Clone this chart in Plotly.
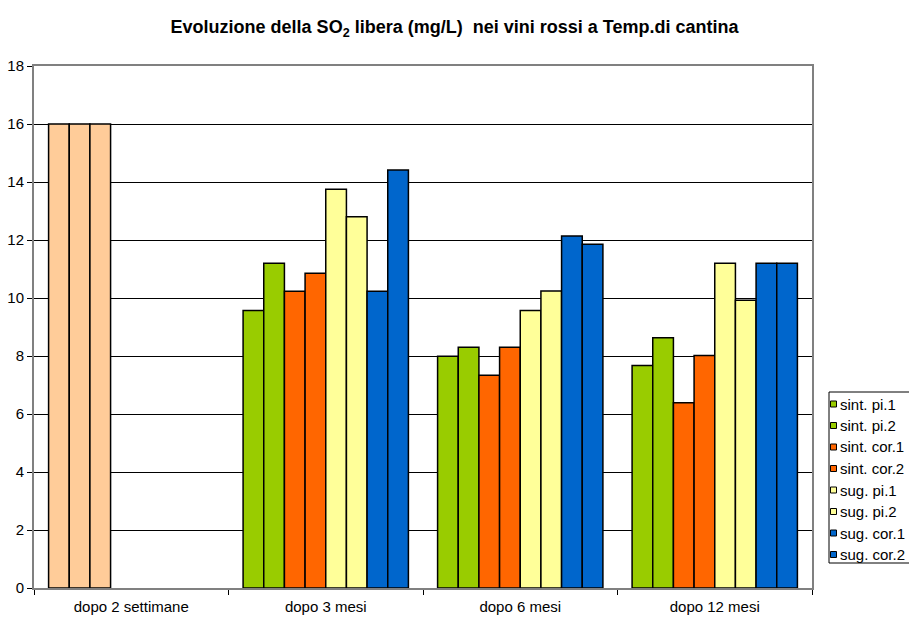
import plotly.graph_objects as go

categories = ["dopo 2 settimane", "dopo 3 mesi", "dopo 6 mesi", "dopo 12 mesi"]
series_names = ["sint. pi.1", "sint. pi.2", "sint. cor.1", "sint. cor.2",
                "sug. pi.1", "sug. pi.2", "sug. cor.1", "sug. cor.2"]
sint_pi1 = [16.0, 9.57, 7.99, 7.67]
sint_pi2 = [16.0, 11.2, 8.30, 8.63]
sint_cor1 = [16.0, 10.23, 7.34, 6.39]
sint_cor2 = [None, 10.85, 8.30, 8.02]
sug_pi1 = [None, 13.75, 9.57, 11.2]
sug_pi2 = [None, 12.8, 10.24, 9.92]
sug_cor1 = [None, 10.23, 12.14, 11.2]
sug_cor2 = [None, 14.41, 11.85, 11.2]
values = [sint_pi1, sint_pi2, sint_cor1, sint_cor2, sug_pi1, sug_pi2, sug_cor1, sug_cor2]
series_colors = ["#99CC00", "#99CC00", "#FF6600", "#FF6600",
                 "#FFFF99", "#FFFF99", "#0066CC", "#0066CC"]
first_point_color = "#FFCC99"
y_ticks = [0, 2, 4, 6, 8, 10, 12, 14, 16, 18]

FONT = "Liberation Sans, Arial, sans-serif"
W_FIG, H_FIG = 909, 617
L, R, T, B = 34, 812, 66, 588
PW, PH = R - L, B - T

def px_x(p):
    return (p - L) / PW

def px_y(p):
    return (B - p) / PH

fig = go.Figure()
for name, vals, col in zip(series_names, values, series_colors):
    cols = [first_point_color if i == 0 else col for i in range(len(vals))]
    fig.add_trace(go.Bar(
        x=categories, y=vals, name=name, showlegend=False,
        marker=dict(color=cols, line=dict(color="#000000", width=1.5)),
    ))

# manual legend (Excel style)
shapes = []
annotations = []
leg_top, leg_bottom = 392, 563
shapes.append(dict(type="rect", xref="paper", yref="paper",
                   x0=px_x(829), x1=px_x(920), y0=px_y(leg_top), y1=px_y(leg_bottom),
                   line=dict(color="#000000", width=1), fillcolor="#FFFFFF", layer="above"))
for i, (name, col) in enumerate(zip(series_names, series_colors)):
    yc = 404 + 21.5 * i
    shapes.append(dict(type="rect", xref="paper", yref="paper",
                       x0=px_x(830.5), x1=px_x(836.5), y0=px_y(yc - 3), y1=px_y(yc + 3),
                       line=dict(color="#000000", width=1), fillcolor=col, layer="above"))
    annotations.append(dict(text=name, xref="paper", yref="paper",
                            x=px_x(838.5), y=px_y(yc), xanchor="left", yanchor="middle",
                            showarrow=False, borderpad=0,
                            font=dict(family=FONT, size=15, color="#000000")))

fig.update_layout(
    width=W_FIG, height=H_FIG,
    margin=dict(l=L, r=W_FIG - R, t=T, b=H_FIG - B, pad=0, autoexpand=False),
    paper_bgcolor="#FFFFFF", plot_bgcolor="#FFFFFF",
    barmode="group", bargap=0.15, bargroupgap=0,
    showlegend=False,
    title=dict(text="<b>Evoluzione della SO<sub>2</sub> libera (mg/L)&nbsp; nei vini rossi a Temp.di cantina</b>",
               x=0.5, xref="container", xanchor="center",
               y=1 - 27 / H_FIG, yref="container", yanchor="middle",
               font=dict(family=FONT, size=18, color="#000000")),
    font=dict(family=FONT, size=15, color="#000000"),
    xaxis=dict(type="category", showgrid=False, showline=True, linecolor="#808080", linewidth=2,
               mirror=True, ticks="outside", tickson="boundaries", ticklen=5, tickcolor="#000000",
               tickwidth=1, ticklabelstandoff=4, automargin=False,
               tickfont=dict(family=FONT, size=15, color="#000000")),
    yaxis=dict(range=[0, 18], tickvals=y_ticks, showgrid=True, gridcolor="#000000", gridwidth=1,
               showline=True, linecolor="#808080", linewidth=2, mirror=True,
               ticks="outside", ticklen=5, tickcolor="#000000", tickwidth=1, automargin=False,
               zeroline=False, tickfont=dict(family=FONT, size=15, color="#000000")),
    shapes=shapes, annotations=annotations,
)

fig.write_html("out.html")
